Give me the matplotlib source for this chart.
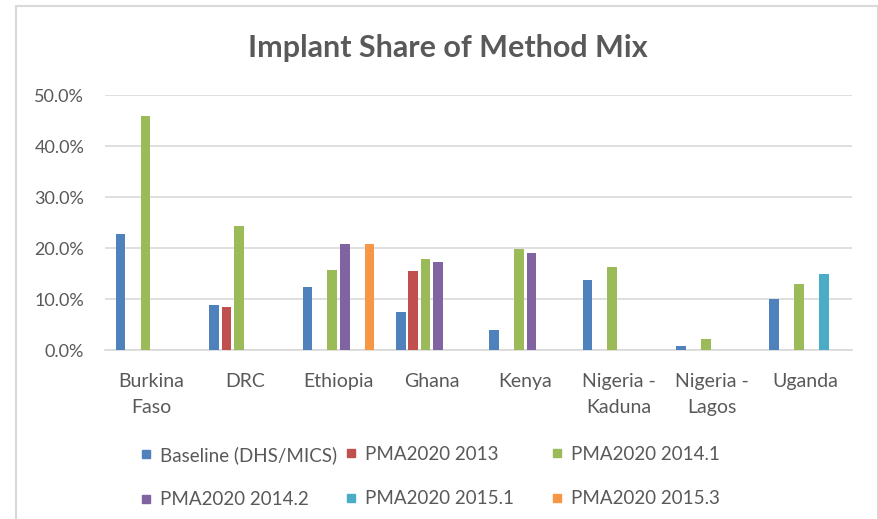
import numpy as np
import matplotlib
matplotlib.use("Agg")
import matplotlib.pyplot as plt
from matplotlib.lines import Line2D
from matplotlib.patches import Rectangle

plt.rcParams['font.family'] = ['Lato', 'DejaVu Sans']

# chart data (percent of method mix), None = no survey
countries = ['Burkina\nFaso', 'DRC', 'Ethiopia', 'Ghana', 'Kenya',
             'Nigeria -\nKaduna', 'Nigeria -\nLagos', 'Uganda']
series_names = ['Baseline (DHS/MICS)', 'PMA2020 2013', 'PMA2020 2014.1',
                'PMA2020 2014.2', 'PMA2020 2015.1', 'PMA2020 2015.3']
baseline = [22.8, 8.8, 12.4, 7.5, 3.9, 13.8, 0.9, 10.0]
pma_2013 = [None, 8.4, None, 15.6, None, None, None, None]
pma_2014_1 = [45.9, 24.4, 15.8, 17.9, 19.9, 16.3, 2.3, 12.9]
pma_2014_2 = [None, None, 20.8, 17.2, 19.0, None, None, None]
pma_2015_1 = [None, None, None, None, None, None, None, 14.9]
pma_2015_3 = [None, None, 20.8, None, None, None, None, None]
y_ticks = [0, 10, 20, 30, 40, 50]

colors = ['#4F81BD', '#C0504D', '#9BBB59', '#8064A2', '#4BACC6', '#F79646']
text_color = '#595959'
grid_color = '#D9D9D9'

fig = plt.figure(figsize=(8.79, 5.19), dpi=100)
ax = fig.add_axes([105 / 879, 1 - 350.3 / 519, 747 / 879, 255.3 / 519])

# chart border like the Excel chart area
fig.patches.append(Rectangle((16 / 879, -0.05), 862 / 879, 1 - 6 / 519 + 0.05,
                             transform=fig.transFigure, fill=False,
                             edgecolor=grid_color, linewidth=1.5))

all_series = [baseline, pma_2013, pma_2014_1, pma_2014_2, pma_2015_1, pma_2015_3]
x = np.arange(len(countries))
step = 0.133
width = 0.104
for k, (vals, c) in enumerate(zip(all_series, colors)):
    v = np.array([np.nan if a is None else a for a in vals], dtype=float)
    ax.bar(x + (k - 2.5) * step, v, width=width, color=c, zorder=3)

ax.set_xlim(-0.5, len(countries) - 0.5)
ax.set_ylim(0, 50)
ax.set_yticks(y_ticks)
ax.set_yticklabels(['%.1f%%' % t for t in y_ticks])
ax.set_xticks(x)
ax.set_xticklabels(countries, linespacing=1.6)
ax.tick_params(axis='y', length=0, pad=15, labelsize=13, labelcolor=text_color)
ax.tick_params(axis='x', length=0, pad=16.5, labelsize=14, labelcolor=text_color)
ax.yaxis.grid(True, color=grid_color, linewidth=1.2, zorder=0)
for s in ['top', 'right', 'left']:
    ax.spines[s].set_visible(False)
ax.spines['bottom'].set_color(grid_color)
ax.spines['bottom'].set_linewidth(1.2)

fig.text(0.509, 1 - 57 / 519, 'Implant Share of Method Mix', ha='center',
         va='baseline', fontsize=22, fontweight='bold', color=text_color)

# legend: three columns, two rows each
handles = [Line2D([], [], marker='s', linestyle='none', markersize=5.5,
                  color=c) for c in colors]
columns = [(0, 3, 147), (1, 4, 352), (2, 5, 558)]
for i, j, xpix in columns:
    leg = fig.legend([handles[i], handles[j]], [series_names[i], series_names[j]],
                     loc='upper left', bbox_to_anchor=(xpix / 879 - 0.008, 1 - 446 / 519),
                     frameon=False, fontsize=13.5, handlelength=0.6,
                     handletextpad=0.45, labelspacing=1.45, borderpad=0,
                     borderaxespad=0)
    for t in leg.get_texts():
        t.set_color(text_color)

fig.savefig('out.png', dpi=100)
